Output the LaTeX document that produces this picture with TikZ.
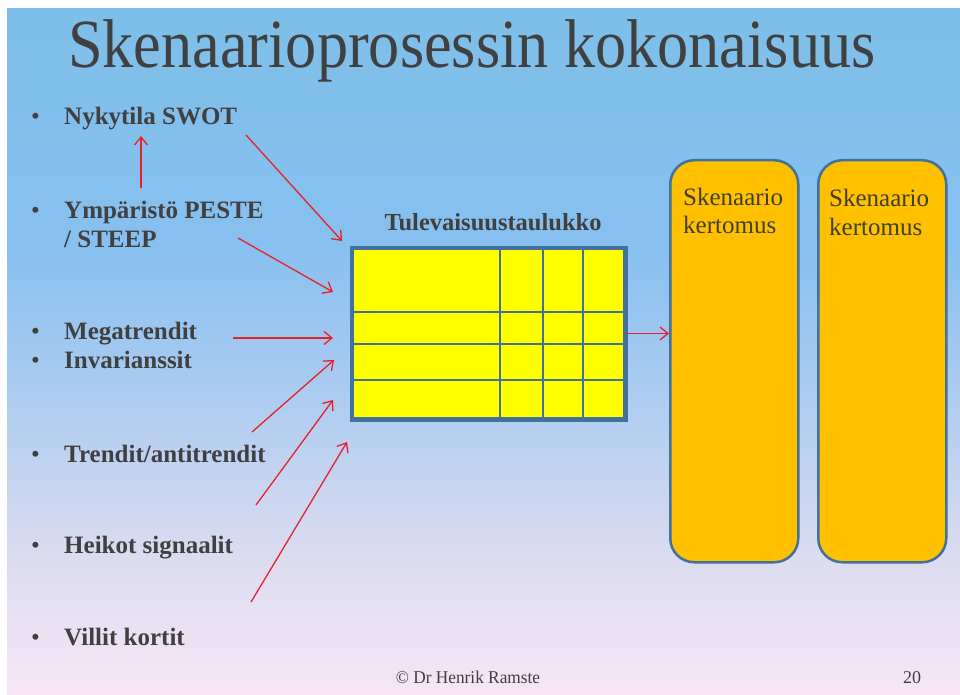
\documentclass[tikz,border=0pt]{standalone}
\usepackage{fontspec}
\usepackage{graphicx}
\setmainfont{Liberation Serif}
\usetikzlibrary{arrows.meta,calc}
\definecolor{bgA}{HTML}{7DBFE8}
\definecolor{bgB}{HTML}{88C0F0}
\definecolor{bgC}{HTML}{AACBF0}
\definecolor{bgD}{HTML}{DCDCF0}
\definecolor{bgE}{HTML}{F7E6F6}
\definecolor{txt}{HTML}{404040}
\definecolor{boxtxt}{HTML}{404030}
\definecolor{tblue}{HTML}{41719C}
\definecolor{orangebox}{HTML}{FFC000}
\definecolor{arrred}{HTML}{E8202A}
\definecolor{tyellow}{HTML}{FFFF00}
\pgfdeclareverticalshading{slidebg}{100bp}{color(0bp)=(bgE); color(25bp)=(bgE); color(35bp)=(bgD); color(47.5bp)=(bgC); color(57.5bp)=(bgB); color(75bp)=(bgA); color(100bp)=(bgA)}
\tikzset{
  bul/.style={anchor=base west, inner sep=0pt, text=txt, font=\fontsize{25}{30}\selectfont\bfseries},
  dotb/.style={anchor=base west, inner sep=0pt, text=txt, font=\fontsize{25}{30}\selectfont},
  boxtext/.style={anchor=base west, inner sep=0pt, text=boxtxt, font=\fontsize{25}{30}\selectfont},
  foot/.style={inner sep=0pt, text=txt, font=\fontsize{18}{20}\selectfont},
  arr/.style={draw=arrred, line width=1.3pt, -{Straight Barb[length=8pt,width=13pt,line width=1.3pt]}},
  scenbox/.style={draw=tblue, line width=2.5pt, fill=orangebox, rounded corners=24pt, minimum width=128pt, minimum height=402pt, inner sep=0pt, anchor=north west}
}
\begin{document}
\begin{tikzpicture}[x=1pt,y=-1pt]
\useasboundingbox (0,0) rectangle (960,695);
\fill[white] (0,0) rectangle (960,695);
\shade[shading=slidebg] (7,9) rectangle (960,695);

% title
\node[anchor=base west, inner sep=0pt, text=txt] (title) at (68,68)
  {\fontsize{69}{80}\selectfont\scalebox{0.902}[1]{Skenaarioprosessin kokonaisuus}};

% bullets
\node[dotb] (b1) at (31,125) {\textbullet};
\node[bul] (nyky) at (64,125) {Nykytila SWOT};
\node[dotb] (b2) at (31,218) {\textbullet};
\node[bul] (ymp) at (64,218) {Ympäristö PESTE};
\node[bul] (steep) at (64,247) {/ STEEP};
\node[dotb] (b3) at (31,339) {\textbullet};
\node[bul] (mega) at (64,339) {Megatrendit};
\node[dotb] (b4) at (31,368) {\textbullet};
\node[bul] (inv) at (64,368) {Invarianssit};
\node[dotb] (b5) at (31,462) {\textbullet};
\node[bul] (trend) at (64,462) {Trendit/antitrendit};
\node[dotb] (b6) at (31,553) {\textbullet};
\node[bul] (heik) at (64,553) {Heikot signaalit};
\node[dotb] (b7) at (31,645) {\textbullet};
\node[bul] (vill) at (64,645) {Villit kortit};

% table
\node[anchor=base, inner sep=0pt, text=txt, font=\fontsize{24.5}{28}\selectfont\bfseries] (ttitle) at (493,230) {Tulevaisuustaulukko};
\node[draw=tblue, line width=3pt, fill=tyellow, minimum width=272pt, minimum height=170pt, inner sep=0pt, anchor=north west] (table) at (351,247) {};
\draw[tblue, line width=1.8pt] (351,312) -- (623,312) (351,344) -- (623,344) (351,380) -- (623,380)
  (500,247) -- (500,417) (543,247) -- (543,417) (583,247) -- (583,417);
\draw[tblue, line width=3pt] (table.north west) rectangle (table.south east);

% scenario boxes
\node[scenbox] (box1) at (669,159) {};
\node[scenbox] (box2) at (817,159) {};
\node[boxtext] (k1a) at (683,205) {Skenaario};
\node[boxtext] (k1b) at (683,233) {kertomus};
\node[boxtext] (k2a) at (829,206) {Skenaario};
\node[boxtext] (k2b) at (829,235) {kertomus};

% arrow endpoints
\coordinate (s1) at (246,135); \coordinate (e1) at (342,241);
\coordinate (s2) at (141,188); \coordinate (e2) at (141,136);
\coordinate (s3) at (238,238); \coordinate (e3) at (333,292);
\coordinate (s4) at (233,338); \coordinate (e4) at (333,338);
\coordinate (s5) at (252,432); \coordinate (e5) at (334,360);
\coordinate (s6) at (256,505); \coordinate (e6) at (333,400);
\coordinate (s7) at (251,602); \coordinate (e7) at (347,442);

\draw[arr] (s1) -- (e1);
\draw[arr] (s2) -- (e2);
\draw[arr] (s3) -- (e3);
\draw[arr] (s4) -- (e4);
\draw[arr] (s5) -- (e5);
\draw[arr] (s6) -- (e6);
\draw[arr] (s7) -- (e7);
\draw[arr] (table.east) -- (table.east -| box1.west);

% footer
\node[foot, anchor=base] (copy) at (468,683) {\scalebox{0.96}[1]{© Dr Henrik Ramste}};
\node[foot, anchor=base west] (page) at (903,683) {20};
\end{tikzpicture}
\end{document}
